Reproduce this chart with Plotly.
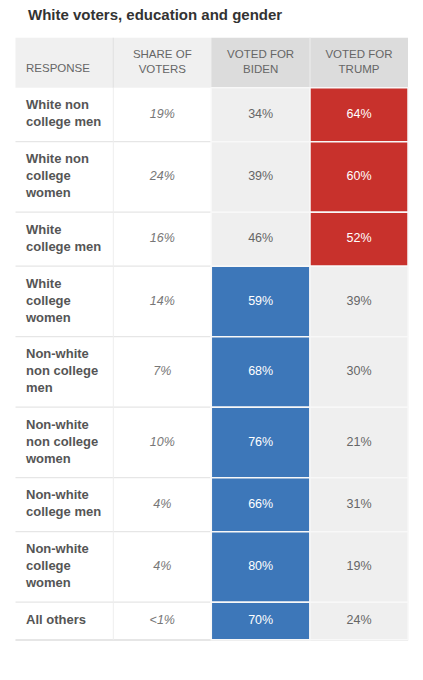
import plotly.graph_objects as go

title = "White voters, education and gender"
headers = ["RESPONSE", "SHARE OF<br>VOTERS", "VOTED FOR<br>BIDEN", "VOTED FOR<br>TRUMP"]
responses = ["White non<br>college men", "White non<br>college<br>women", "White<br>college men",
             "White<br>college<br>women", "Non-white<br>non college<br>men", "Non-white<br>non college<br>women",
             "Non-white<br>college men", "Non-white<br>college<br>women", "All others"]
share = ["19%", "24%", "16%", "14%", "7%", "10%", "4%", "4%", "<1%"]
biden = [34, 39, 46, 59, 68, 76, 66, 80, 70]
trump = [64, 60, 52, 39, 30, 21, 31, 19, 24]

W, H = 423, 680
col_edges = [15.5, 113.3, 211.3, 310, 408]
header_top, header_bot = 37.7, 87.7
BLUE, RED, GRAY, HDR1, HDR2 = "#3d77b9", "#c8312c", "#efefef", "#f0f0f0", "#dcdcdc"
FONT = "Liberation Sans, Arial, sans-serif"

# row geometry from number of text lines
tops, bots = [], []
y = header_bot
for r in responses:
    n = r.count("<br>") + 1
    h = 21 + 16.5 * n
    tops.append(y); bots.append(y + h); y += h
mids = [(a + b) / 2 for a, b in zip(tops, bots)]

shapes = []
# header backgrounds
shapes.append(dict(type="rect", x0=col_edges[0], x1=col_edges[2], y0=header_top, y1=header_bot,
                   fillcolor=HDR1, line_width=0, layer="below"))
shapes.append(dict(type="rect", x0=col_edges[2], x1=col_edges[4], y0=header_top, y1=header_bot,
                   fillcolor=HDR2, line_width=0, layer="below"))
for xe, c in [(col_edges[1], "#e3e3e3"), (col_edges[3], "#ebebeb")]:
    shapes.append(dict(type="line", x0=xe, x1=xe, y0=header_top, y1=header_bot,
                       line=dict(color=c, width=1.2), layer="below"))

# row separators on the left columns
for b in bots:
    shapes.append(dict(type="line", x0=col_edges[0], x1=col_edges[2], y0=b, y1=b,
                       line=dict(color="#e6e6e6", width=1.2), layer="below"))
shapes.append(dict(type="line", x0=col_edges[0], x1=col_edges[4], y0=bots[-1] + 0.8, y1=bots[-1] + 0.8,
                   line=dict(color="#e6e6e6", width=1.2), layer="below"))
shapes.append(dict(type="line", x0=col_edges[1], x1=col_edges[1], y0=header_bot, y1=bots[-1],
                   line=dict(color="#eeeeee", width=1), layer="below"))

# vote cells
for i in range(len(responses)):
    bw = biden[i] > trump[i]
    for j, won in [(2, bw), (3, not bw)]:
        fill = (BLUE if j == 2 else RED) if won else GRAY
        shapes.append(dict(type="rect", x0=col_edges[j], x1=col_edges[j + 1], y0=tops[i], y1=bots[i],
                           fillcolor=fill, line=dict(color="#f8f8f8", width=1.5), layer="below"))

fig = go.Figure()

# header text
hx = [26, (col_edges[1] + col_edges[2]) / 2, (col_edges[2] + col_edges[3]) / 2, (col_edges[3] + col_edges[4]) / 2]
hy = [69.5, 62.2, 62.2, 62.2]
fig.add_trace(go.Scatter(x=hx[:1], y=hy[:1], mode="text", text=headers[:1], textposition="middle right",
                         textfont=dict(family=FONT, size=11.5, color="#666666"), hoverinfo="skip"))
fig.add_trace(go.Scatter(x=hx[1:], y=hy[1:], mode="text", text=headers[1:], textposition="middle center",
                         textfont=dict(family=FONT, size=11.5, color="#666666"), hoverinfo="skip"))

# response labels
fig.add_trace(go.Scatter(x=[26] * len(responses), y=mids, mode="text", text=[f"<b>{r}</b>" for r in responses],
                         textposition="middle right",
                         textfont=dict(family=FONT, size=13, color="#555555"), hoverinfo="skip"))
# share
fig.add_trace(go.Scatter(x=[hx[1]] * len(share), y=mids, mode="text", text=[f"<i>{s}</i>" for s in share],
                         textposition="middle center",
                         textfont=dict(family=FONT, size=12.5, color="#777777"), hoverinfo="skip"))
# biden / trump
bcol = ["#ffffff" if b > t else "#666666" for b, t in zip(biden, trump)]
tcol = ["#ffffff" if t > b else "#666666" for b, t in zip(biden, trump)]
fig.add_trace(go.Scatter(x=[hx[2]] * len(biden), y=mids, mode="text", text=[f"{v}%" for v in biden],
                         textposition="middle center",
                         textfont=dict(family=FONT, size=12.5, color=bcol), hoverinfo="skip"))
fig.add_trace(go.Scatter(x=[hx[3]] * len(trump), y=mids, mode="text", text=[f"{v}%" for v in trump],
                         textposition="middle center",
                         textfont=dict(family=FONT, size=12.5, color=tcol), hoverinfo="skip"))

fig.update_layout(
    width=W, height=H, margin=dict(l=0, r=0, t=0, b=0),
    paper_bgcolor="white", plot_bgcolor="white", showlegend=False,
    shapes=shapes,
    xaxis=dict(range=[0, W], visible=False, fixedrange=True),
    yaxis=dict(range=[H, 0], visible=False, fixedrange=True),
    annotations=[dict(text=f"<b>{title}</b>", x=26, y=14, xref="x", yref="y", xanchor="left", yanchor="middle",
                      showarrow=False, font=dict(family=FONT, size=15, color="#333333"))],
)
fig.write_html("out.html", config={"displayModeBar": False},
               post_script="document.body.style.margin='0';document.body.style.overflow='hidden';")
